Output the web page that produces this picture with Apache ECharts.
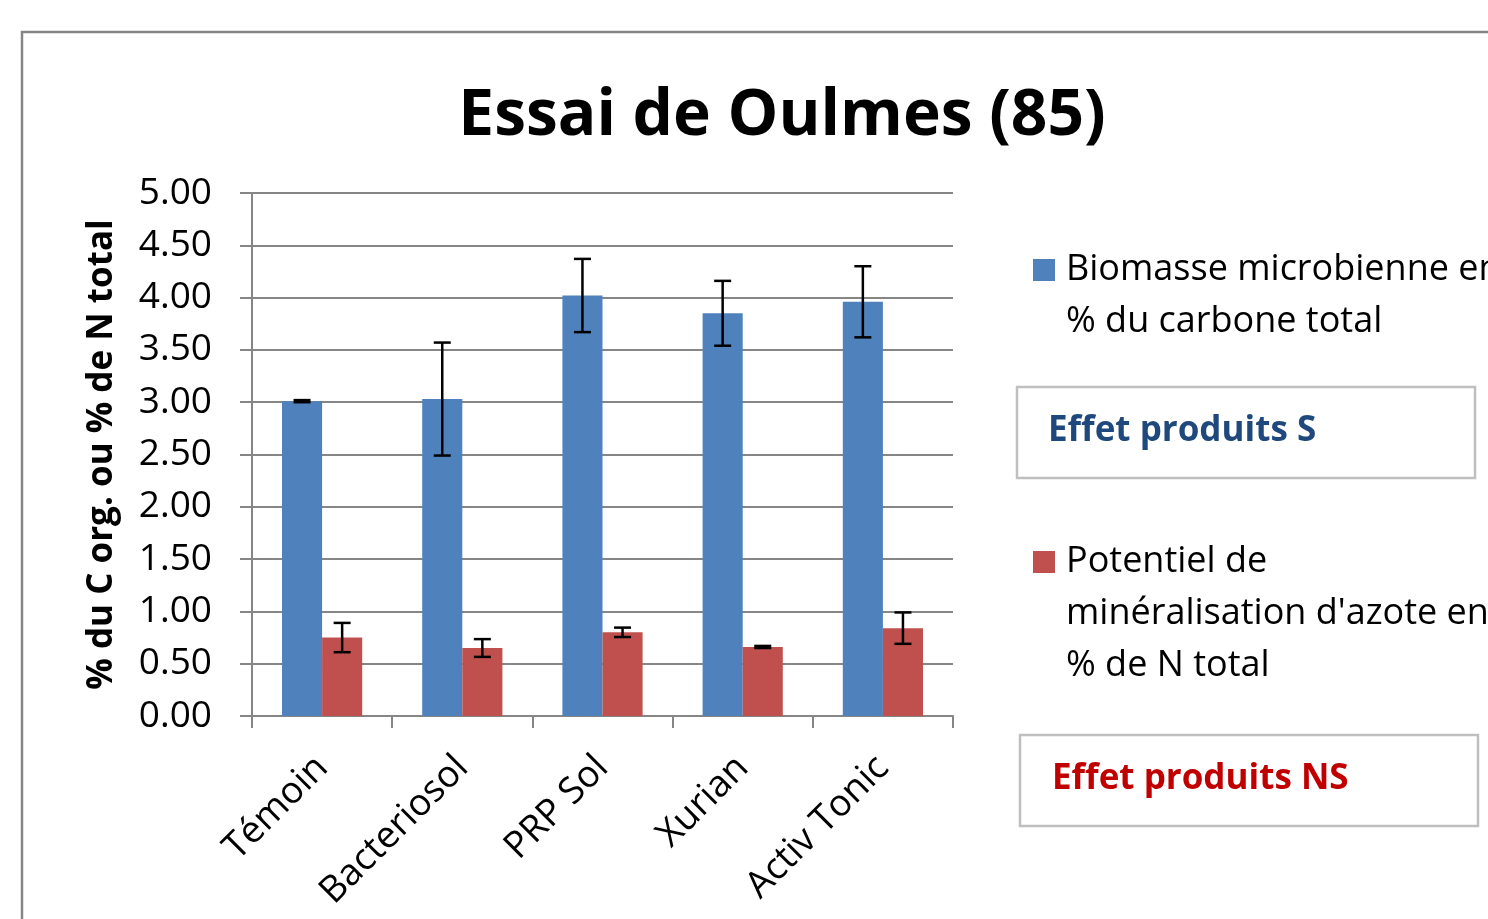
<!DOCTYPE html>
<html>
<head>
<meta charset="utf-8">
<script src="https://cdn.jsdelivr.net/npm/echarts@6/dist/echarts.min.js"></script>
<style>
  html, body { margin: 0; padding: 0; background: #fff; }
  #main { width: 1488px; height: 919px; }
</style>
</head>
<body>
<div id="main"></div>
<script>
// données
var categories = ['Témoin', 'Bacteriosol', 'PRP Sol', 'Xurian', 'Activ Tonic'];
var biomasse = [3.01, 3.03, 4.02, 3.85, 3.96];
var biomasseErr = [0.01, 0.54, 0.35, 0.31, 0.34];
var azote = [0.75, 0.65, 0.80, 0.66, 0.84];
var azoteErr = [0.14, 0.085, 0.045, 0.01, 0.15];
var nomBiomasse = 'Biomasse microbienne en\n% du carbone total';
var nomAzote = "Potentiel de\nminéralisation d'azote en\n% de N total";
var yTicks = [0, 0.5, 1, 1.5, 2, 2.5, 3, 3.5, 4, 4.5, 5];

var fonte = '"Open Sans", sans-serif';
var gris = '#868686';

function errData(vals, errs) {
    var out = [];
    for (var i = 0; i < vals.length; i++) {
        out.push([i, vals[i], errs[i]]);
    }
    return out;
}

// barre d'erreur dessinée par série custom, décalée dans la catégorie
function errRenderer(offset) {
    return function (params, api) {
        var band = api.size([1, 0])[0];
        var v = api.value(1), e = api.value(2);
        var top = api.coord([api.value(0), v + e]);
        var bot = api.coord([api.value(0), v - e]);
        var x = top[0] + offset * band;
        var cap = 8.5;
        var st = { stroke: '#000', lineWidth: 2.5 };
        return {
            type: 'group',
            children: [
                { type: 'line', shape: { x1: x, y1: top[1], x2: x, y2: bot[1] }, style: st },
                { type: 'line', shape: { x1: x - cap, y1: top[1], x2: x + cap, y2: top[1] }, style: st },
                { type: 'line', shape: { x1: x - cap, y1: bot[1], x2: x + cap, y2: bot[1] }, style: st }
            ]
        };
    };
}

// la légende centre le texte sur l'icône : on ajoute des lignes vides au-dessus
function legendFmt(name) {
    var n = name.split('\n').length;
    var pad = '';
    for (var i = 1; i < n; i++) pad += ' \n';
    return pad + name;
}

var legendText = { fontFamily: fonte, fontSize: 36, color: '#000', lineHeight: 52, padding: [0, 0, 0, 6] };

var myChart = echarts.init(document.getElementById('main'));
var option = {
    backgroundColor: '#fff',
    animation: false,
    title: {
        text: 'Essai de Oulmes (85)',
        left: 777,
        top: 80,
        textAlign: 'center',
        textStyle: { fontFamily: fonte, fontWeight: 'bold', fontSize: 64, color: '#000' }
    },
    legend: [{
        data: [nomBiomasse],
        orient: 'vertical',
        left: 1033,
        top: 192,
        padding: 0,
        icon: 'rect',
        itemWidth: 22,
        itemHeight: 22,
        itemGap: 0,
        formatter: legendFmt,
        textStyle: legendText
    }, {
        data: [nomAzote],
        orient: 'vertical',
        left: 1033,
        top: 432,
        padding: 0,
        icon: 'rect',
        itemWidth: 22,
        itemHeight: 22,
        itemGap: 0,
        formatter: legendFmt,
        textStyle: legendText
    }],
    grid: { left: 252, right: 535, top: 193, bottom: 203 },
    xAxis: {
        type: 'category',
        data: categories,
        axisLine: { lineStyle: { color: gris, width: 2 } },
        axisTick: { show: true, alignWithLabel: false, length: 12, lineStyle: { color: gris, width: 2 } },
        axisLabel: {
            rotate: 45,
            margin: 46,
            interval: 0,
            fontFamily: fonte,
            fontSize: 37,
            color: '#000'
        }
    },
    yAxis: {
        type: 'value',
        min: 0,
        max: 5,
        interval: 0.5,
        name: '% du C org. ou % de N total',
        nameLocation: 'middle',
        nameGap: 132,
        nameTextStyle: { fontFamily: fonte, fontWeight: 'bold', fontSize: 35, color: '#000' },
        axisLine: { show: true, lineStyle: { color: gris, width: 2 } },
        axisTick: { show: true, length: 12, lineStyle: { color: gris, width: 2 } },
        splitLine: { lineStyle: { color: gris, width: 2 } },
        axisLabel: {
            margin: 40,
            fontFamily: fonte,
            fontSize: 37,
            color: '#000',
            customValues: yTicks,
            formatter: function (v) { return v.toFixed(2); }
        }
    },
    series: [{
        name: nomBiomasse,
        type: 'bar',
        data: biomasse,
        barWidth: '28.6%',
        barGap: '0%',
        itemStyle: { color: '#4F81BD' }
    }, {
        name: nomAzote,
        type: 'bar',
        data: azote,
        barWidth: '28.6%',
        barGap: '0%',
        itemStyle: { color: '#C0504D' }
    }, {
        type: 'custom',
        renderItem: errRenderer(-0.143),
        data: errData(biomasse, biomasseErr),
        encode: { x: 0, y: 1 },
        z: 10,
        silent: true
    }, {
        type: 'custom',
        renderItem: errRenderer(0.143),
        data: errData(azote, azoteErr),
        encode: { x: 0, y: 1 },
        z: 10,
        silent: true
    }],
    graphic: [{
        type: 'rect',
        shape: { x: 22, y: 32, width: 1520, height: 950 },
        style: { fill: null, stroke: gris, lineWidth: 2.5 },
        z: -10
    }, {
        type: 'rect',
        shape: { x: 1017, y: 387, width: 458, height: 91 },
        style: { fill: '#fff', stroke: '#bfbfbf', lineWidth: 2.5 }
    }, {
        type: 'text',
        x: 1048,
        y: 431,
        style: {
            text: 'Effet produits S',
            fontFamily: fonte,
            fontWeight: 'bold',
            fontSize: 35,
            fill: '#1F497D',
            verticalAlign: 'middle'
        }
    }, {
        type: 'rect',
        shape: { x: 1020, y: 735, width: 458, height: 91 },
        style: { fill: '#fff', stroke: '#bfbfbf', lineWidth: 2.5 }
    }, {
        type: 'text',
        x: 1052,
        y: 779,
        style: {
            text: 'Effet produits NS',
            fontFamily: fonte,
            fontWeight: 'bold',
            fontSize: 35,
            fill: '#C00000',
            verticalAlign: 'middle'
        }
    }]
};
myChart.setOption(option);
</script>
</body>
</html>
